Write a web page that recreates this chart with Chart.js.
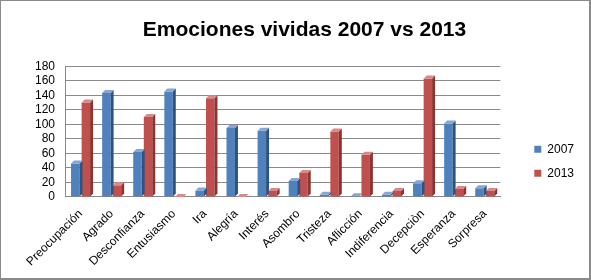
<!DOCTYPE html>
<html>
<head>
<meta charset="utf-8">
<script src="https://cdn.jsdelivr.net/npm/chart.js@4"></script>
<style>
  body { margin: 0; background: #fff; }
  #wrap {
    width: 591px; height: 280px; box-sizing: border-box;
    border: 1px solid #8a8a8a; border-right-width: 2px; border-bottom-width: 2px;
    position: relative;
  }
</style>
</head>
<body>
<div id="wrap"><canvas id="chart"></canvas></div>
<script>
// Data
const CATEGORIES = ['Preocupación', 'Agrado', 'Desconfianza', 'Entusiasmo', 'Ira', 'Alegría',
  'Interés', 'Asombro', 'Tristeza', 'Aflicción', 'Indiferencia', 'Decepciòn', 'Esperanza', 'Sorpresa'];
const VALUES_2007 = [46, 143, 62, 145, 9, 95, 91, 22, 3, 1, 3, 19, 101, 12];
const VALUES_2013 = [130, 16, 110, 0, 136, 0, 8, 33, 90, 58, 8, 163, 11, 8];
const Y_TICKS = { min: 0, max: 180, step: 20 };

const FRONT = ['#4F81BD', '#C0504D'];
const SIDE = ['#30527f', '#8a3533'];
const TOP = ['#87a6d4', '#d88a88'];
const DX = 3, DY = 3;

// fake 3D: side and top faces drawn from the bar elements' positions
const bar3d = {
  id: 'bar3d',
  afterDatasetsDraw(chart) {
    const ctx = chart.ctx;
    ctx.save();
    chart.data.datasets.forEach((ds, i) => {
      const meta = chart.getDatasetMeta(i);
      meta.data.forEach(bar => {
        const { x, y, base, width } = bar.getProps(['x', 'y', 'base', 'width'], true);
        const l = x - width / 2, r = x + width / 2;
        ctx.fillStyle = SIDE[i];
        ctx.beginPath();
        ctx.moveTo(r, y); ctx.lineTo(r + DX, y - DY); ctx.lineTo(r + DX, base - DY); ctx.lineTo(r, base);
        ctx.closePath(); ctx.fill();
        ctx.fillStyle = TOP[i];
        ctx.beginPath();
        ctx.moveTo(l, y); ctx.lineTo(l + DX, y - DY); ctx.lineTo(r + DX, y - DY); ctx.lineTo(r, y);
        ctx.closePath(); ctx.fill();
      });
    });
    ctx.restore();
  }
};

new Chart(document.getElementById('chart'), {
  type: 'bar',
  data: {
    labels: CATEGORIES,
    datasets: [
      { label: '2007', data: VALUES_2007, backgroundColor: FRONT[0] },
      { label: '2013', data: VALUES_2013, backgroundColor: FRONT[1] }
    ]
  },
  options: {
    responsive: true,
    maintainAspectRatio: false,
    animation: false,
    datasets: { bar: { categoryPercentage: 0.68, barPercentage: 0.8 } },
    layout: { padding: { left: 24, right: 5, top: 0, bottom: 7 } },
    scales: {
      x: {
        grid: { display: false },
        border: { color: '#8a8a8a' },
        ticks: {
          color: '#000', autoSkip: false, maxRotation: 45, minRotation: 45,
          font: { family: 'Liberation Sans', size: 12 }, padding: 2
        }
      },
      y: {
        min: Y_TICKS.min, max: Y_TICKS.max,
        grid: { color: '#8a8a8a', drawTicks: false },
        border: { color: '#8a8a8a' },
        ticks: {
          stepSize: Y_TICKS.step, autoSkip: false, color: '#000', padding: 10,
          font: { family: 'Liberation Sans', size: 12 }
        }
      },
      gap: {
        position: 'right', display: true,
        grid: { display: false }, border: { display: false },
        ticks: { display: false },
        afterFit: s => { s.width = 22; }
      }
    },
    plugins: {
      title: {
        display: true, text: 'Emociones vividas 2007 vs 2013', color: '#000',
        font: { family: 'Liberation Sans', size: 21, weight: 'bold' },
        padding: { top: 17, bottom: 23 }
      },
      legend: {
        position: 'right',
        title: { display: true, text: ' ', font: { size: 12 }, padding: { top: 0, bottom: 36 } },
        labels: {
          color: '#000', boxWidth: 7, boxHeight: 7, padding: 12,
          font: { family: 'Liberation Sans', size: 12 }
        }
      },
      tooltip: { enabled: false }
    }
  },
  plugins: [bar3d]
});
</script>
</body>
</html>
